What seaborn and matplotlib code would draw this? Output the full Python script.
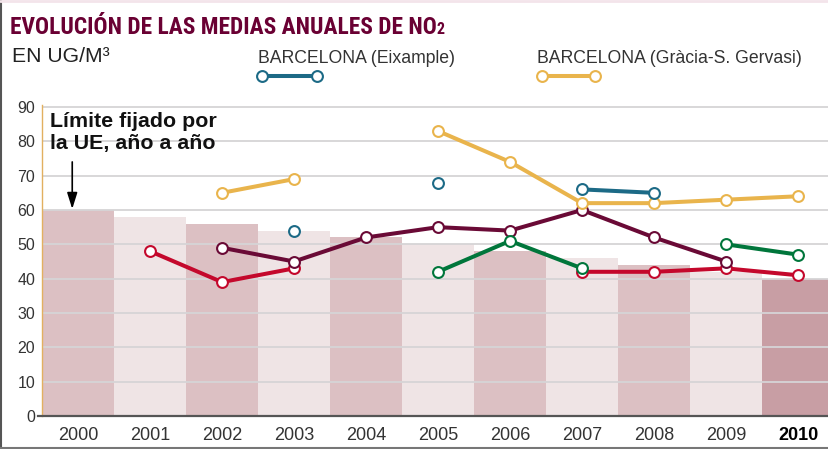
import numpy as np
import pandas as pd
import matplotlib
matplotlib.use("Agg")
import matplotlib.pyplot as plt
from matplotlib.lines import Line2D
from matplotlib import font_manager
import seaborn as sb

# Data: EU yearly limit (bars) and annual NO2 means per station
years   = ['2000', '2001', '2002', '2003', '2004', '2005',
           '2006', '2007', '2008', '2009', '2010']
limite  = [60, 58, 56, 54, 52, 50, 48, 46, 44, 42, 40]

nan = np.nan
rojo     = [nan, 48, 39, 43, nan, nan, nan, 42, 42, 43, 41]
granate  = [nan, nan, 49, 45, 52, 55, 54, 60, 52, 45, nan]
verde    = [nan, nan, nan, nan, nan, 42, 51, 43, nan, 50, 47]
gracia   = [nan, nan, 65, 69, nan, 83, 74, 62, 62, 63, 64]
eixample = [nan, nan, nan, 54, nan, 68, nan, 66, 65, nan, nan]

titulo   = 'EVOLUCIÓN DE LAS MEDIAS ANUALES DE NO'
unidades = 'EN UG/M³'
leyenda  = ['BARCELONA (Eixample)', 'BARCELONA (Gràcia-S. Gervasi)']
nota     = 'Límite fijado por\nla UE, año a año'

sb.set_style('white')
plt.rcParams['font.family'] = ['Liberation Sans', 'DejaVu Sans']

# look for a condensed face for the title, if one is installed
cond_family, cond_stretch = None, 'normal'
names = set(f.name for f in font_manager.fontManager.ttflist)
for cand in ['Roboto Condensed', 'Liberation Sans Narrow', 'Open Sans Condensed',
             'DejaVu Sans Condensed', 'Noto Sans Condensed']:
    if cand in names:
        cond_family = cand
        break
if cond_family is None:
    for f in font_manager.fontManager.ttflist:
        if str(f.stretch) in ('condensed', 'semi-condensed', '75', '87.5') \
                and f.name in ('DejaVu Sans', 'Noto Sans', 'Open Sans', 'Roboto'):
            cond_family, cond_stretch = f.name, f.stretch
            break

W, H = 829, 449
fig = plt.figure(figsize=(W / 100, H / 100), dpi=100)

# axes: left edge 42px, bottom 416px, value 90 at 107px
px_per_unit = (416 - 107) / 90.0
ytop = 90.6
ax = fig.add_axes([42 / W, (H - 416) / H, (W - 42) / W, ytop * px_per_unit / H])

df = pd.DataFrame({'year': years, 'limite': limite})
bar_cols = ['#dcc0c3' if i % 2 == 0 else '#efe4e5' for i in range(len(years))]
bar_cols[-1] = '#c89ea4'
sb.barplot(data=df, x='year', y='limite', hue='year', palette=bar_cols,
           legend=False, width=1.0, saturation=1, linewidth=0, ax=ax)

# gridlines above the bars, below the lines
ax.set_axisbelow('line')
ax.yaxis.grid(True, color='#d6d4d6', linewidth=1.3)
ax.xaxis.grid(False)

xi = np.arange(len(years))
series = [(rojo, '#c4082c'), (granate, '#6a0a36'), (verde, '#00763b'),
          (gracia, '#e9b44c'), (eixample, '#1c6a86')]
for vals, col in series:
    ax.plot(xi, vals, color=col, lw=2.9, marker='o', ms=7.8,
            mfc='white', mec=col, mew=1.5, zorder=3, solid_capstyle='round')

ax.set_xlim(-0.5, 10.43)
ax.set_ylim(0, ytop)
ax.set_yticks(range(0, 91, 10))
ax.set_xlabel('')
ax.set_ylabel('')
ax.tick_params(axis='y', length=0, pad=5, labelsize=11.5, labelcolor='#333333')
ax.tick_params(axis='x', length=0, pad=8, labelsize=13, labelcolor='#333333')
ax.get_xticklabels()[-1].set_fontweight('bold')
ax.get_xticklabels()[-1].set_color('#000000')

for s in ['top', 'right']:
    ax.spines[s].set_visible(False)
ax.spines['left'].set_color('#e2b060')
ax.spines['left'].set_linewidth(1.0)
ax.spines['bottom'].set_color('#555555')
ax.spines['bottom'].set_linewidth(1.6)
ax.spines['bottom'].set_bounds(-0.56, 10.43)
ax.spines['bottom'].set_zorder(4)

# annotation + arrow
ax.text(-0.39, 88.6, nota, fontsize=15.4, fontweight='bold', color='#111111',
        va='top', ha='left', linespacing=1.2)
ax.annotate('', xy=(-0.08, 60.3), xytext=(-0.08, 74.0),
            arrowprops=dict(arrowstyle='-|>,head_length=0.7,head_width=0.22',
                            color='black', lw=1.2,
                            mutation_scale=14, shrinkA=0, shrinkB=0))

# title and header
if cond_family is not None:
    tfam = [cond_family, 'Liberation Sans', 'DejaVu Sans']
    tsize, ssize = 16.8, 11.5
else:
    tfam = ['Liberation Sans', 'DejaVu Sans']
    tsize, ssize = 14, 9.5
t = fig.text(10 / W, 1 - 34 / H, titulo, fontsize=tsize, fontweight='bold',
             color='#6a0033', va='baseline', ha='left', family=tfam,
             fontstretch=cond_stretch)
fig.canvas.draw()
bb = t.get_window_extent()
fig.text(bb.x1 / W, 1 - 34 / H, '2', fontsize=ssize, fontweight='bold',
         color='#6a0033', va='baseline', ha='left', family=tfam,
         fontstretch=cond_stretch)

fig.text(12 / W, 1 - 62 / H, unidades, fontsize=15.2, color='#222222',
         va='baseline', ha='left')

fig.text(258 / W, 1 - 63 / H, leyenda[0], fontsize=12.7, color='#333333',
         va='baseline', ha='left')
fig.text(537 / W, 1 - 63 / H, leyenda[1], fontsize=12.7, color='#333333',
         va='baseline', ha='left')
for (x0, x1), col in [((262, 317), '#1c6a86'), ((542, 595), '#e9b44c')]:
    fig.add_artist(Line2D([x0 / W, x1 / W], [1 - 76 / H, 1 - 76 / H],
                          transform=fig.transFigure, color=col, lw=2.9,
                          marker='o', ms=7.8, mfc='white', mec=col, mew=1.5))

# outer frame of the graphic
fig.add_artist(Line2D([1.5 / W, 1.5 / W], [0, 1], transform=fig.transFigure,
                      color='#555555', lw=1.5))
fig.add_artist(Line2D([0, 1], [1.5 / H, 1.5 / H], transform=fig.transFigure,
                      color='#777777', lw=1.5))
fig.add_artist(Line2D([0, 1], [1 - 1 / H, 1 - 1 / H], transform=fig.transFigure,
                      color='#f3e4ea', lw=2))

fig.savefig('out.png', dpi=100)
